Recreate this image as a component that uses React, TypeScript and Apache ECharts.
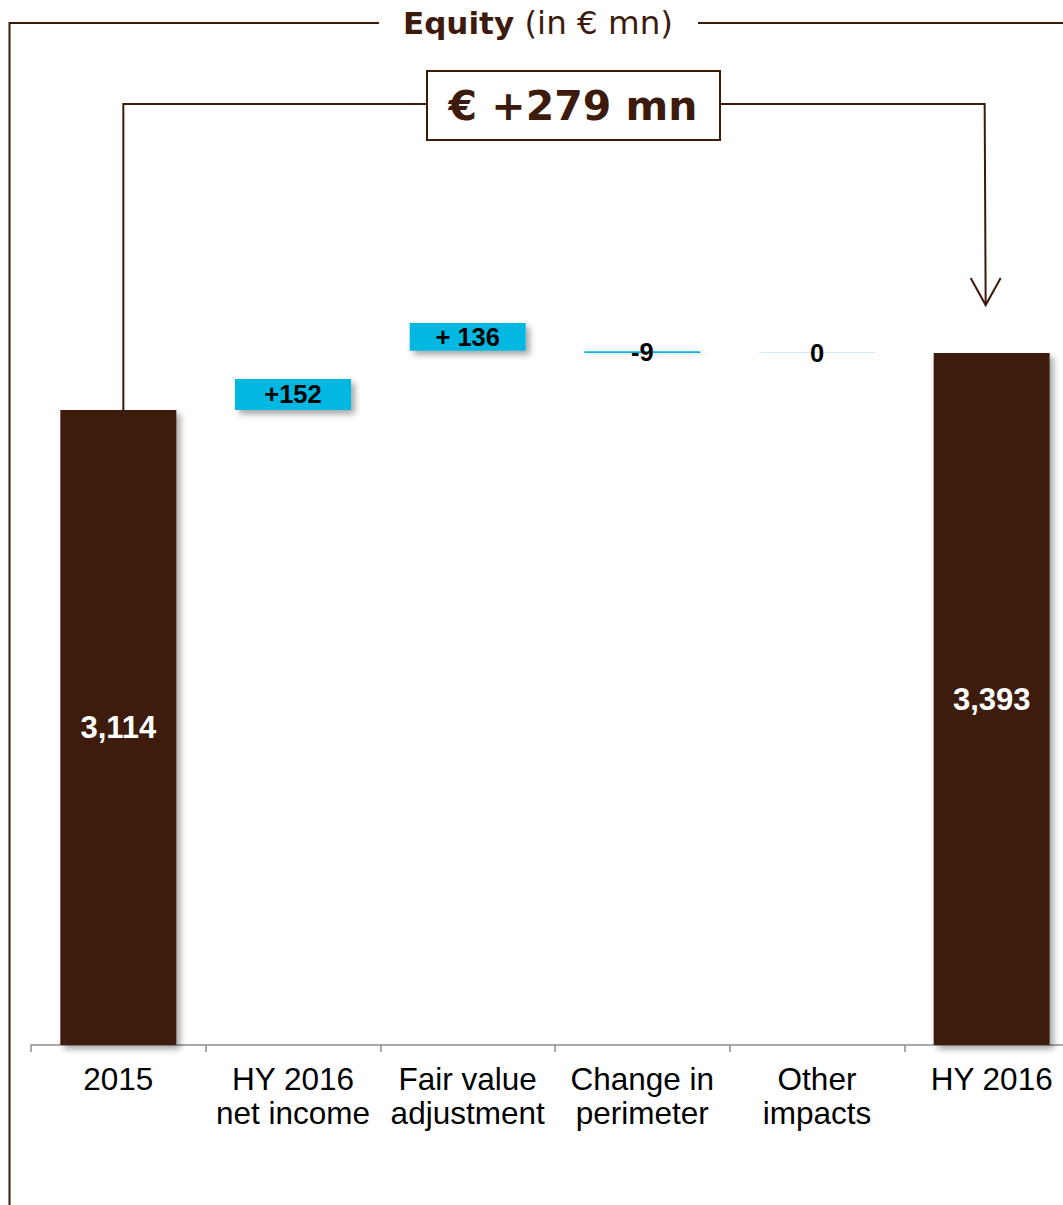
import React, { useEffect, useRef } from "react";
import * as echarts from "echarts";

const categories = [
  "2015",
  "HY 2016\nnet income",
  "Fair value\nadjustment",
  "Change in\nperimeter",
  "Other\nimpacts",
  "HY 2016",
];
const startValue = 3114;
const endValue = 3393;
const changes = [152, 136, -9, 0];
// bottoms of the floating bars, as drawn in the picture
const changeBases = [3114, 3405, 3393, 3393];
const changeLabels = ["+152", "+ 136", "-9", "0"];
const totalChangeText = "€ +279 mn";

const BROWN = "#3c1b0d";
const CYAN = "#00b8e2";

export default function App() {
  const ref = useRef<HTMLDivElement>(null);

  useEffect(() => {
    document.body.style.margin = "0";
    document.body.style.overflow = "hidden";
    document.documentElement.style.overflow = "hidden";
    if (!ref.current) return;
    const chart = echarts.init(ref.current, undefined, { renderer: "svg" });

    const n = categories.length;
    const totals: any[] = new Array(n).fill("-");
    totals[0] = startValue;
    totals[n - 1] = endValue;
    const base: any[] = new Array(n).fill("-");
    const change: any[] = new Array(n).fill("-");
    changes.forEach((d, i) => {
      base[i + 1] = changeBases[i];
      change[i + 1] = {
        value: Math.abs(d),
        itemStyle: d === 0 ? { color: "#cdeef8", shadowColor: "rgba(0,0,0,0.12)" } : undefined,
      };
    });

    const shadow = {
      shadowBlur: 6,
      shadowOffsetX: 4,
      shadowOffsetY: 4,
      shadowColor: "rgba(0,0,0,0.35)",
    };

    chart.setOption({
      animation: false,
      grid: { left: 31, right: 0, top: 229.3, bottom: 160 },
      xAxis: {
        type: "category",
        data: categories,
        axisLine: { lineStyle: { color: "#8c8c8c", width: 1.5 } },
        axisTick: { show: true, length: 7, lineStyle: { color: "#8c8c8c", width: 1.5 } },
        axisLabel: {
          color: "#000",
          fontFamily: "Liberation Sans",
          fontSize: 31.5,
          lineHeight: 34,
          margin: 17,
          interval: 0,
        },
      },
      yAxis: {
        type: "value",
        min: 0,
        max: 4000,
        show: false,
        splitLine: { show: false },
      },
      series: [
        {
          type: "bar",
          stack: "w",
          data: totals,
          barWidth: 116,
          itemStyle: { color: BROWN, ...shadow },
          label: {
            show: true,
            position: "inside",
            color: "#fff",
            fontFamily: "Liberation Sans",
            fontWeight: "bold",
            fontSize: 31,
            formatter: (p: any) => Number(p.value).toLocaleString("en-US"),
          },
        },
        {
          type: "bar",
          stack: "w",
          data: base,
          barWidth: 116,
          itemStyle: { color: "transparent" },
          silent: true,
        },
        {
          type: "bar",
          stack: "w",
          data: change,
          barWidth: 116,
          barMinHeight: 1,
          itemStyle: { color: CYAN, ...shadow },
          label: {
            show: true,
            position: "inside",
            color: "#000",
            fontFamily: "Liberation Sans",
            fontWeight: "bold",
            fontSize: 25.5,
            formatter: (p: any) => changeLabels[p.dataIndex - 1],
          },
        },
      ],
    });

    const p0 = chart.convertToPixel({ gridIndex: 0 }, [0, startValue]) as number[];
    const p5 = chart.convertToPixel({ gridIndex: 0 }, [n - 1, endValue]) as number[];
    const lx = p0[0] + 5;
    const ax = p5[0] - 7;
    const lineStyle = { stroke: BROWN, lineWidth: 2, fill: null };

    chart.setOption({
      graphic: [
        // outer bracket
        { type: "polyline", shape: { points: [[9.5, 1205], [9.5, 23], [379, 23]] }, style: lineStyle },
        { type: "line", shape: { x1: 698, y1: 23, x2: 1063, y2: 23 }, style: lineStyle },
        {
          type: "text",
          x: 538,
          y: 23,
          style: {
            text: "{b|Equity}{n| (in € mn)}",
            align: "center",
            verticalAlign: "middle",
            rich: {
              b: { fontFamily: "DejaVu Sans", fontWeight: "bold", fontSize: 31, fill: BROWN },
              n: { fontFamily: "DejaVu Sans", fontSize: 32.5, fill: BROWN },
            },
          },
        },
        // inner bracket
        { type: "polyline", shape: { points: [[lx, p0[1]], [lx, 104], [427, 104]] }, style: lineStyle },
        { type: "polyline", shape: { points: [[720, 104], [ax, 104], [ax + 1, p5[1] - 48]] }, style: lineStyle },
        {
          type: "polyline",
          shape: { points: [[ax - 14, p5[1] - 75], [ax + 1, p5[1] - 48], [ax + 16, p5[1] - 75]] },
          style: lineStyle,
        },
        {
          type: "rect",
          shape: { x: 427, y: 71, width: 293, height: 69 },
          style: { stroke: BROWN, lineWidth: 2, fill: "#fff" },
        },
        {
          type: "text",
          x: 573,
          y: 106,
          style: {
            text: totalChangeText,
            align: "center",
            verticalAlign: "middle",
            fontFamily: "DejaVu Sans",
            fontWeight: "bold",
            fontSize: 41,
            fill: BROWN,
          },
        },
      ],
    });

    return () => chart.dispose();
  }, []);

  return <div ref={ref} style={{ width: 1079, height: 1205 }} />;
}
